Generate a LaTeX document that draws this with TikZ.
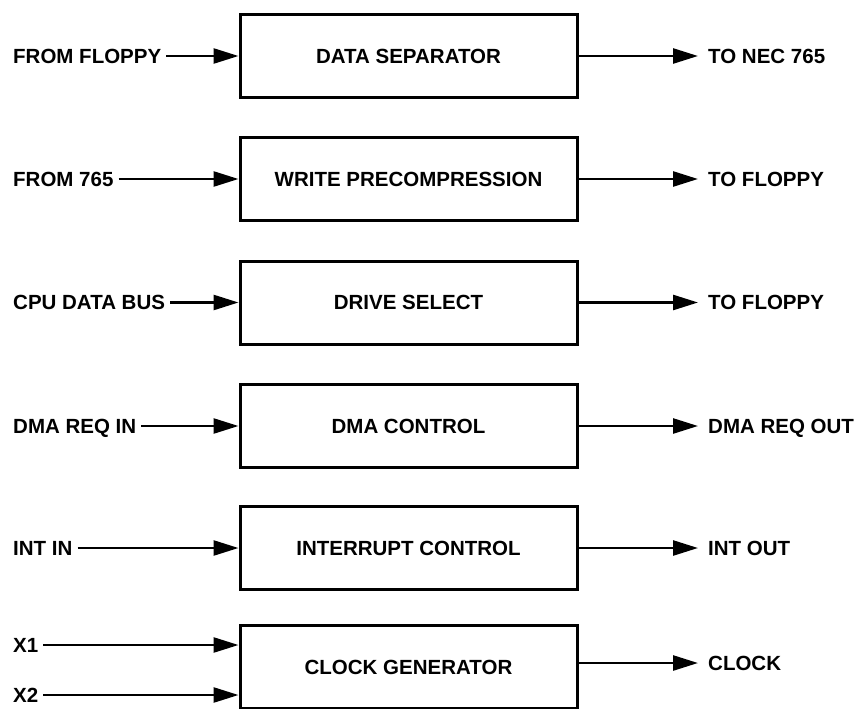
\documentclass[tikz,border=0pt]{standalone}
\usepackage{fontspec}
\setmainfont{Liberation Sans}
\usetikzlibrary{arrows.meta}
\begin{document}
\begin{tikzpicture}[x=1pt,y=-1pt,
  blk/.style={draw,line width=3pt,minimum width=337pt,minimum height=83pt,inner sep=0pt,
    font=\fontsize{20.5}{22}\selectfont\bfseries},
  lbl/.style={inner sep=0pt,text height=14.7pt,text depth=0pt,
    font=\fontsize{20.5}{22}\selectfont\bfseries},
  sig/.style={line width=2.6pt,-{Triangle[length=25pt,width=15pt]}}
]
\useasboundingbox (0,0) rectangle (859,709);
% blocks
\node[blk] (b1) at (408.5,56) {DATA SEPARATOR};
\node[blk] (b2) at (408.5,179) {WRITE PRECOMPRESSION};
\node[blk] (b3) at (408.5,302.5) {DRIVE SELECT};
\node[blk] (b4) at (408.5,426) {DMA CONTROL};
\node[blk] (b5) at (408.5,548) {INTERRUPT CONTROL};
\node[blk] (b6) at (408.5,667) {CLOCK GENERATOR};
% left labels
\node[lbl,anchor=west] (i1) at (13,56) {FROM FLOPPY};
\node[lbl,anchor=west] (i2) at (13,179) {FROM 765};
\node[lbl,anchor=west] (i3) at (13,302.5) {CPU DATA BUS};
\node[lbl,anchor=west] (i4) at (13,426) {DMA REQ IN};
\node[lbl,anchor=west] (i5) at (13,548) {INT IN};
\node[lbl,anchor=west] (i6) at (13,645) {X1};
\node[lbl,anchor=west] (i7) at (13,695) {X2};
% right labels
\node[lbl,anchor=west] (o1) at (708,56) {TO NEC 765};
\node[lbl,anchor=west] (o2) at (708,179) {TO FLOPPY};
\node[lbl,anchor=west] (o3) at (708,302.5) {TO FLOPPY};
\node[lbl,anchor=west] (o4) at (708,426) {DMA REQ OUT};
\node[lbl,anchor=west] (o5) at (708,548) {INT OUT};
\node[lbl,anchor=west] (o6) at (708,663) {CLOCK};
% inputs
\foreach \i/\b in {i1/b1,i2/b2,i3/b3,i4/b4,i5/b5,i6/b6,i7/b6}
  \draw[sig,shorten <=5pt] (\i.east) -- (\i.east -| \b.west);
% outputs
\foreach \b/\o in {b1/o1,b2/o2,b3/o3,b4/o4,b5/o5,b6/o6}
  \draw[sig,shorten >=10pt] (\o.west -| \b.east) -- (\o.west);
\end{tikzpicture}
\end{document}
